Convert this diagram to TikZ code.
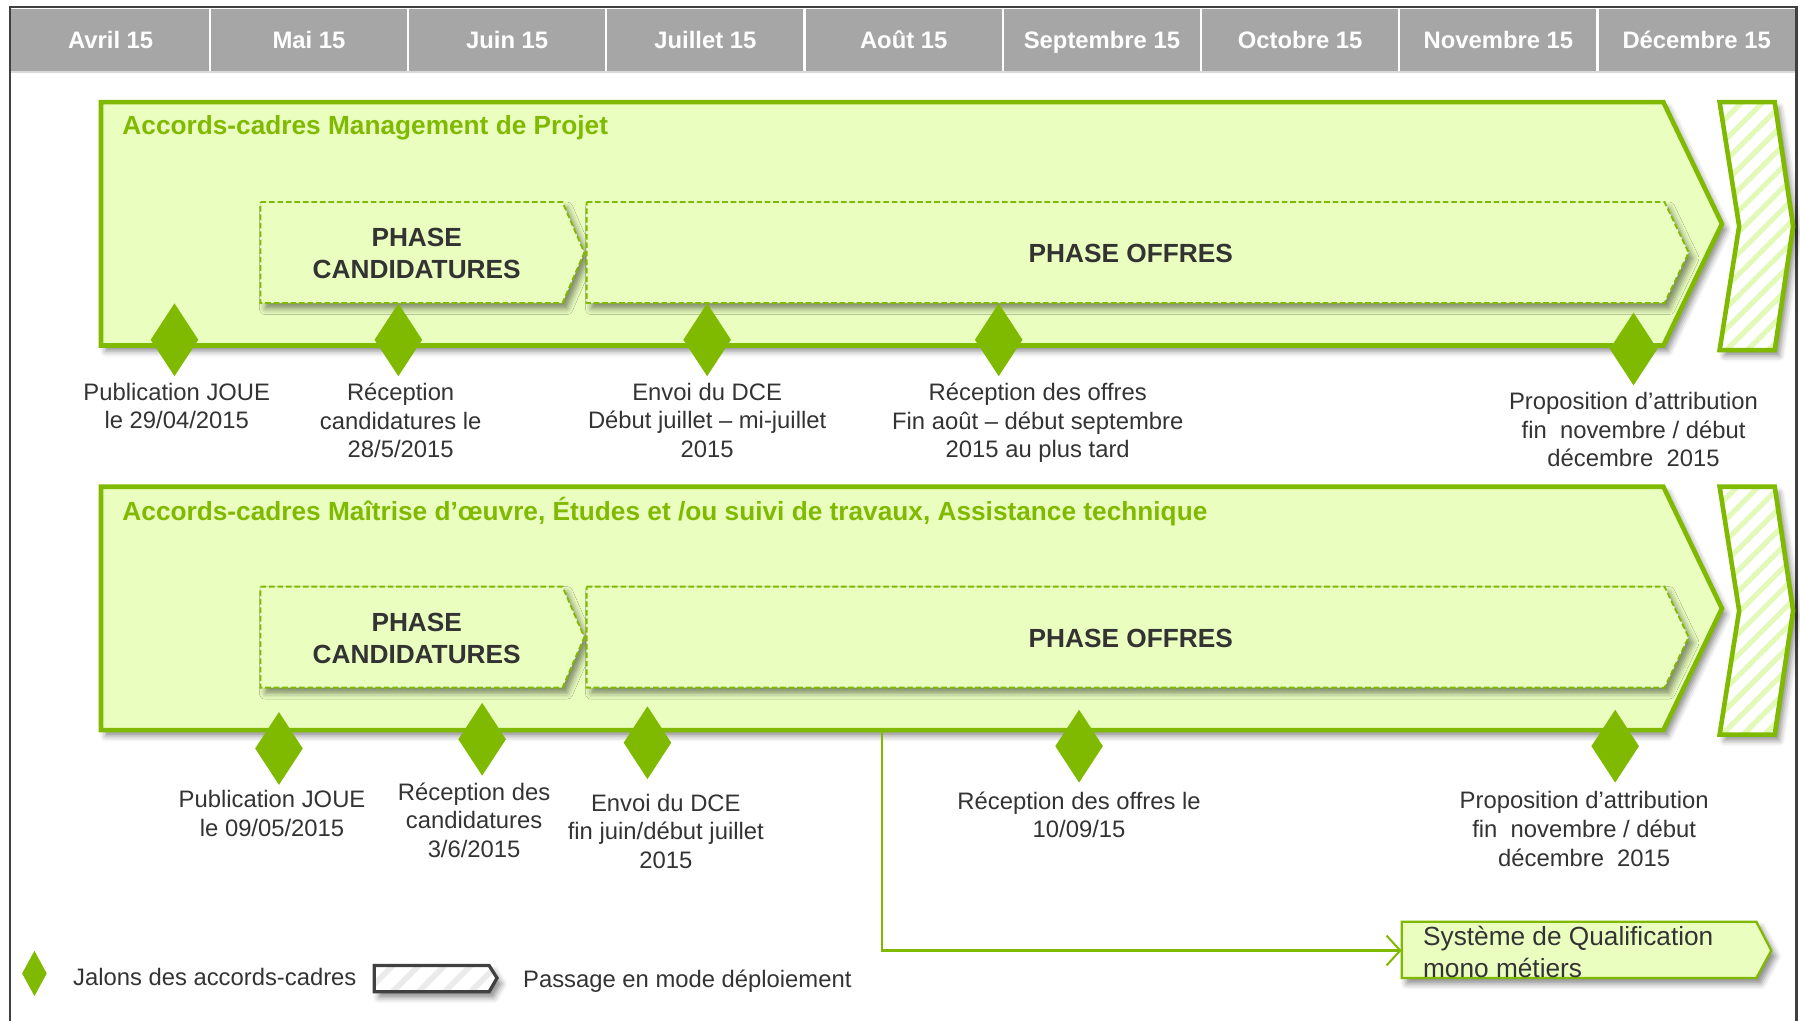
\documentclass[tikz,border=0pt]{standalone}
\usepackage{fontspec}
\setmainfont{Liberation Sans}
\usetikzlibrary{shapes.geometric,shadows.blur,patterns.meta,arrows.meta}

\definecolor{jgreen}{HTML}{7FBA00}
\definecolor{lightleaf}{HTML}{EAFEC0}
\definecolor{hatchgreen}{HTML}{E2F9B8}
\definecolor{headgray}{HTML}{A6A6A6}
\definecolor{framegray}{HTML}{404040}
\definecolor{inkgray}{HTML}{333333}

\def\bigchevron{(88,89) -- (1449,89) -- (1500,195) -- (1449,301) -- (88,301) -- cycle}
\def\candchevron{(227,176) -- (490,176) -- (509,220) -- (490,264) -- (227,264) -- cycle}
\def\offrechevron{(511,176) -- (1450,176) -- (1471,220) -- (1450,264) -- (511,264) -- cycle}
\def\deploychevron{(1498,89) -- (1546,89) -- (1562,197) -- (1546,305) -- (1498,305) -- (1515,197) -- cycle}
\def\sqchevron{(1221,803) -- (1530,803) -- (1543,828) -- (1530,852) -- (1221,852) -- cycle}
\def\legendchevron{(326,841) -- (426,841) -- (433,852) -- (426,864) -- (326,864) -- cycle}

\begin{document}
\begin{tikzpicture}[x=0.01cm, y=-0.01cm,
    softshadow/.style={blur shadow={shadow xshift=0.04cm, shadow yshift=-0.05cm, shadow blur radius=0.05cm, shadow opacity=45}},
    panelline/.style={draw=jgreen, line width=0.04cm, line join=miter},
    phaseline/.style={draw=jgreen, line width=0.45pt, dash pattern=on 1.4pt off 0.7pt},
    stripes/.style={pattern={Lines[angle=45, distance=0.13cm, line width=0.045cm]}, pattern color=hatchgreen},
    jalon/.style={diamond, fill=jgreen, inner sep=0pt, minimum width=0.42cm, minimum height=0.64cm},
    monthtext/.style={text=white, anchor=base, inner sep=0pt, font=\bfseries\fontsize{5.9}{7}\selectfont},
    titletext/.style={text=jgreen, anchor=west, inner sep=0pt, font=\bfseries\fontsize{6.5}{8}\selectfont},
    phasetext/.style={text=inkgray, align=center, inner sep=0pt, font=\bfseries\fontsize{6.5}{8}\selectfont},
    jalontext/.style={text=inkgray, align=center, inner sep=0pt, anchor=north, font=\fontsize{5.9}{7.1}\selectfont},
    legendtext/.style={text=inkgray, anchor=west, inner sep=0pt, font=\fontsize{5.9}{7.1}\selectfont},
    link/.style={draw=jgreen, line width=0.5pt, -{Straight Barb[length=0.12cm, width=0.26cm, line width=0.5pt]}}]
  \useasboundingbox (0,0) rectangle (1568,889);

  % months band
  \fill[headgray] (10,8) rectangle (1564,62);
  \draw[black!15, line width=0.02cm] (10,63) -- (1564,63);
  \foreach \m [count=\i from 0] in {Avril 15, Mai 15, Juin 15, Juillet 15, Août 15,
      Septembre 15, Octobre 15, Novembre 15, Décembre 15}
    \node[monthtext] (m\i) at ({96.4+172.7*\i},42) {\m};
  \foreach \k in {1,...,8}
    \draw[white, line width=0.02cm] ({10+172.7*\k},8) -- ({10+172.7*\k},62);
  \draw[framegray, line width=0.02cm] (9,889) -- (9,6) -- (1565,6) -- (1565,889);

  % the two accords-cadres
  \foreach \yo in {0,335} {
    \begin{scope}[shift={(0,\yo)}]
      \path[fill=lightleaf, softshadow] \bigchevron;
      \draw[panelline] \bigchevron;
      \path[fill=white, softshadow] \deploychevron;
      \path[stripes] \deploychevron;
      \draw[panelline] \deploychevron;
      \path[fill=lightleaf, softshadow] \candchevron;
      \draw[phaseline] \candchevron;
      \path[fill=lightleaf, softshadow] \offrechevron;
      \draw[phaseline] \offrechevron;
    \end{scope}
  }

  \node[titletext] (mptitle) at (106,111) {Accords-cadres Management de Projet};
  \node[phasetext] (cand1) at (363,221) {PHASE\\CANDIDATURES};
  \node[phasetext] (offre1) at (985,221) {PHASE OFFRES};

  \node[titletext] (moetitle) at (106,446) {Accords-cadres Maîtrise d’œuvre, Études et /ou suivi de travaux, Assistance technique};
  \node[phasetext] (cand2) at (363,556) {PHASE\\CANDIDATURES};
  \node[phasetext] (offre2) at (985,556) {PHASE OFFRES};

  % jalons, management de projet
  \node[jalon] (mp1) at (152,296) {};
  \node[jalon] (mp2) at (347,296) {};
  \node[jalon] (mp3) at (616,296) {};
  \node[jalon] (mp4) at (870,296) {};
  \node[jalon] (mp5) at (1423,304) {};
  \node[jalontext] (mp1txt) at (154,333) {Publication JOUE\\le 29/04/2015};
  \node[jalontext] (mp2txt) at (349,333) {Réception\\candidatures le\\28/5/2015};
  \node[jalontext] (mp3txt) at (616,333) {Envoi du DCE\\Début juillet – mi-juillet\\2015};
  \node[jalontext] (mp4txt) at (904,333) {Réception des offres\\Fin août – début septembre\\2015 au plus tard};
  \node[jalontext] (mp5txt) at (1423,341) {Proposition d’attribution\\fin\ \ novembre / début\\décembre\ \ 2015};

  % jalons, maitrise d'oeuvre
  \node[jalon] (moe1) at (243,652) {};
  \node[jalon] (moe2) at (420,644) {};
  \node[jalon] (moe3) at (564,647) {};
  \node[jalon] (moe4) at (940,650) {};
  \node[jalon] (moe5) at (1407,650) {};
  \node[jalontext] (moe1txt) at (237,688) {Publication JOUE\\le 09/05/2015};
  \node[jalontext] (moe2txt) at (413,681) {Réception des\\candidatures\\3/6/2015};
  \node[jalontext] (moe3txt) at (580,691) {Envoi du DCE\\fin juin/début juillet\\2015};
  \node[jalontext] (moe4txt) at (940,689) {Réception des offres le\\10/09/15};
  \node[jalontext] (moe5txt) at (1380,689) {Proposition d’attribution\\fin\ \ novembre / début\\décembre\ \ 2015};

  % systeme de qualification
  \path[fill=lightleaf, softshadow] \sqchevron;
  \draw[draw=jgreen, line width=0.02cm] \sqchevron;
  \node[text=inkgray, align=left, anchor=north west, inner sep=0pt,
        font=\fontsize{6.5}{8}\selectfont] (sq) at (1239,806) {Système de Qualification\\mono métiers};
  \coordinate (split) at (768,636);
  \coordinate (sqin) at (1221,828);
  \draw[link] (split) |- (sqin);

  % legend
  \node[jalon, minimum width=0.22cm, minimum height=0.4cm] (legjalon) at (30,848) {};
  \node[legendtext] (legjalontxt) at (63,851) {Jalons des accords-cadres};
  \path[fill=white, softshadow] \legendchevron;
  \path[pattern={Lines[angle=45, distance=0.16cm, line width=0.05cm]}, pattern color=black!8] \legendchevron;
  \draw[framegray, line width=0.028cm] \legendchevron;
  \node[legendtext] (legdeploytxt) at (455,855) {Passage en mode déploiement};
\end{tikzpicture}
\end{document}
